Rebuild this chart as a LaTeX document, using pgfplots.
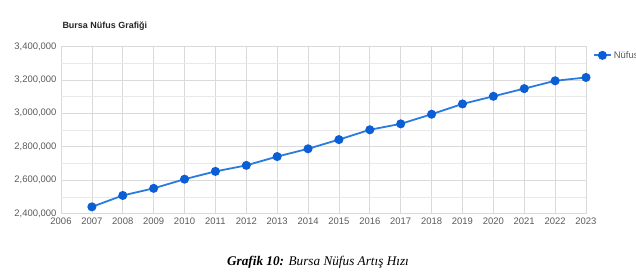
\documentclass[border=0pt]{standalone}
\usepackage{fontspec}
\setmainfont{Liberation Sans}
\newfontfamily\serifcap{Liberation Serif}
\usepackage{pgfplots}
\pgfplotsset{compat=1.18}
\definecolor{linec}{HTML}{2A7BE0}
\definecolor{markc}{HTML}{0A5FD6}
\definecolor{gridmaj}{HTML}{DADADA}
\definecolor{gridmin}{HTML}{E9E9E9}
\definecolor{tickc}{HTML}{5A5A5A}
\begin{document}
\begin{tikzpicture}[x=1bp,y=1bp]
\path[use as bounding box] (0,0) rectangle (636,276);
\begin{axis}[
  at={(61bp,62.5bp)}, anchor=south west,
  width=525bp, height=167bp, scale only axis,
  xmin=2006, xmax=2023, ymin=2400000, ymax=3400000,
  xtick={2006,...,2023},
  minor x tick num=1,
  ytick={2400000,2600000,2800000,3000000,3200000,3400000},
  minor y tick num=1,
  grid=both,
  major grid style={gridmaj, line width=0.7pt},
  minor grid style={gridmin, line width=0.6pt},
  axis line style={draw=none},
  major tick length=0pt, minor tick length=0pt,
  tick style={draw=none},
  /pgf/number format/assume math mode=true,
  x tick label style={font=\fontsize{9.5}{10}\selectfont, text=tickc, /pgf/number format/1000 sep={}},
  y tick label style={font=\fontsize{9.5}{10}\selectfont, text=tickc, /pgf/number format/fixed, /pgf/number format/1000 sep={,}},
  scaled y ticks=false,
  xticklabel style={yshift=-1bp},
  yticklabel style={xshift=-1bp},
  legend style={at={(1.013,0.985)}, anchor=north west, draw=none, fill=none,
    font=\fontsize{9.5}{10}\selectfont, text=tickc, inner sep=0pt},
  legend cell align=left,
  clip=false,
]
\addplot[color=linec, line width=1.8pt, mark=*, mark size=3.6pt, mark options={fill=markc, draw=markc}]
coordinates {
(2007,2439876) (2008,2507963) (2009,2550645) (2010,2605495) (2011,2652126)
(2012,2688171) (2013,2740970) (2014,2787539) (2015,2842547) (2016,2901396)
(2017,2936803) (2018,2994521) (2019,3056120) (2020,3101833) (2021,3147818)
(2022,3194720) (2023,3214571)
};
\addlegendentry{Nüfus}
\end{axis}
\node[anchor=west, font=\bfseries\fontsize{9}{10}\selectfont, text=black!85] at (59,250) {Bursa Nüfus Grafiği};
\node[anchor=center, font=\serifcap\itshape\fontsize{13.3}{14}\selectfont] at (318,14) {\textbf{Grafik 10:} Bursa Nüfus Artış Hızı};
\end{tikzpicture}
\end{document}
